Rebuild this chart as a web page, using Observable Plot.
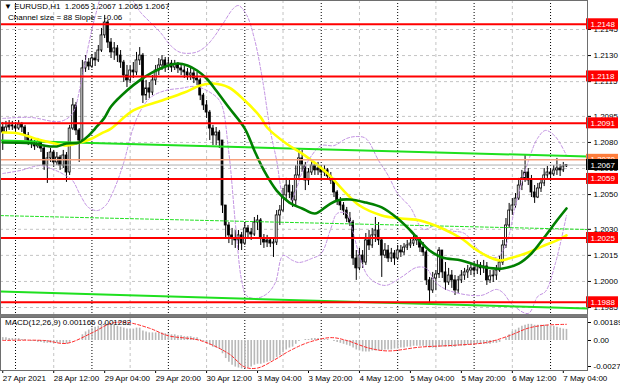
<!DOCTYPE html>
<html><head><meta charset="utf-8">
<script src="https://cdn.jsdelivr.net/npm/d3@7"></script>
<script src="https://cdn.jsdelivr.net/npm/@observablehq/plot@0.6"></script>
<style>
body{margin:0;background:#fff;}
#wrap{position:relative;width:620px;height:388px;overflow:hidden;background:#fff;font-family:"Liberation Sans",Arial,sans-serif;}
#main,#macd{position:absolute;left:0;}
#main{top:0}
#macd{top:315px}
.t{position:absolute;font-size:8px;line-height:10px;white-space:pre;color:#000}
#sep{position:absolute;left:0;top:314px;width:588px;height:3px;background:#7a7a7a}
</style></head><body>
<div id="wrap"><div id="main"></div><div id="macd"></div><div id="sep"></div>
<div class="t" style="left:4px;top:2px">▼ EURUSD,H1  1.2065 1.2067 1.2065 1.2067</div>
<div class="t" style="left:8px;top:13px">Channel size = 88 Slope = -0.06</div>
<div class="t" style="left:5px;top:318px">MACD(12,26,9) 0.001166 0.001282</div>
</div>
<script>
// ---- candles (H1 bars, index 0 = 27 Apr 20:00) ----
const firstOpen = 1.20886;
const close = [
1.20857,1.20886,1.20898,1.20892,1.2088,1.20903,1.20886,1.2084,1.20811,1.20794,
1.20777,1.208,1.20765,1.20667,1.20708,1.20742,1.20685,1.20713,1.20667,1.20725,
1.20627,1.2088,1.21013,1.20869,1.20811,1.21226,1.2126,1.21237,1.21283,1.21272,
1.21329,1.21416,1.2149,1.21375,1.21318,1.21341,1.213,1.2126,1.21185,1.21157,
1.21214,1.21203,1.21272,1.213,1.2107,1.21111,1.21087,1.21157,1.21214,1.21243,
1.21272,1.21237,1.21254,1.21231,1.21249,1.21226,1.21214,1.21203,1.21185,1.21197,
1.21168,1.21157,1.2107,1.21013,1.20972,1.2088,1.2084,1.20857,1.20811,1.20437,
1.20322,1.20265,1.20247,1.20236,1.20265,1.20218,1.20305,1.20282,1.2027,1.20339,
1.20351,1.20247,1.20224,1.20236,1.20218,1.20224,1.2038,1.20408,1.20495,1.20552,
1.20512,1.20466,1.2061,1.20708,1.20667,1.20581,1.20627,1.20667,1.20639,1.2065,
1.20627,1.20639,1.20604,1.20581,1.20512,1.20466,1.20437,1.20408,1.20362,1.20339,
1.20132,1.20075,1.20149,1.20109,1.20236,1.20207,1.20265,1.20293,1.20236,1.20149,
1.20178,1.20132,1.20161,1.20132,1.20178,1.20167,1.20195,1.20207,1.20218,1.20236,
1.20247,1.20195,1.20167,1.20006,1.19948,1.20017,1.2004,1.20178,1.20052,1.19994,
1.20034,1.20006,1.19948,1.20006,1.20034,1.20052,1.20063,1.20075,1.20063,1.20092,
1.20075,1.20086,1.20006,1.20029,1.20034,1.20063,1.20109,1.20207,1.20322,1.20408,
1.20437,1.20477,1.20552,1.20593,1.20627,1.20581,1.20512,1.20483,1.20535,1.20564,
1.2061,1.20627,1.20616,1.20639,1.2065,1.20639,1.20662,1.2067];
const high = [
1.20915,1.20921,1.20926,1.20921,1.20915,1.20926,1.20915,1.20898,1.20857,1.20828,
1.20811,1.20823,1.20811,1.20777,1.20742,1.20765,1.20754,1.20742,1.20725,1.20754,
1.20742,1.20898,1.21053,1.2103,1.2088,1.21272,1.213,1.21283,1.21306,1.21318,
1.21358,1.21456,1.21531,1.21502,1.21398,1.21375,1.21358,1.21329,1.21272,1.21243,
1.21243,1.2126,1.21318,1.21346,1.21312,1.21157,1.21145,1.21185,1.21243,1.21283,
1.213,1.21289,1.21283,1.21272,1.21272,1.2126,1.21249,1.21237,1.21226,1.21226,
1.21214,1.21203,1.21168,1.21082,1.21041,1.20984,1.20898,1.20886,1.20869,1.20811,
1.20437,1.20339,1.20305,1.20293,1.20293,1.20282,1.20339,1.20322,1.20305,1.20368,
1.2038,1.20362,1.2027,1.20265,1.20247,1.20247,1.20408,1.20437,1.20535,1.20593,
1.20581,1.20552,1.20667,1.20765,1.20754,1.20685,1.2065,1.20696,1.20685,1.20685,
1.20667,1.20667,1.2065,1.20627,1.20593,1.20523,1.20483,1.20454,1.20426,1.20397,
1.20351,1.20178,1.2019,1.20178,1.20276,1.20293,1.20305,1.20368,1.20339,1.20247,
1.20218,1.20207,1.2019,1.20178,1.20207,1.20207,1.20218,1.20236,1.20247,1.20265,
1.20265,1.20253,1.20224,1.20178,1.20023,1.20052,1.20063,1.20195,1.20178,1.20109,
1.20075,1.20063,1.20034,1.20029,1.20063,1.20075,1.20092,1.20103,1.20109,1.20121,
1.20109,1.20121,1.20109,1.20063,1.20063,1.20092,1.20149,1.20236,1.20362,1.20449,
1.20477,1.20506,1.20593,1.20639,1.20725,1.2065,1.2061,1.20552,1.20564,1.20593,
1.2065,1.20662,1.2065,1.20667,1.20708,1.20673,1.20685,1.20673];
const low = [
1.20754,1.20852,1.20869,1.20869,1.20857,1.20869,1.20857,1.20811,1.20782,1.20765,
1.20754,1.20765,1.20742,1.20639,1.20564,1.20685,1.20656,1.20667,1.20639,1.2065,
1.2057,1.2061,1.20869,1.2084,1.20685,1.208,1.21203,1.21214,1.21226,1.21237,
1.2126,1.21318,1.21398,1.21341,1.21283,1.21272,1.2126,1.21226,1.21145,1.21116,
1.21139,1.21168,1.21185,1.21243,1.21024,1.21041,1.21053,1.2107,1.21128,1.21185,
1.21214,1.21203,1.21214,1.21203,1.21214,1.21197,1.21185,1.21168,1.21157,1.21157,
1.21139,1.21128,1.21041,1.20984,1.20938,1.20811,1.20782,1.20782,1.20765,1.20391,
1.20253,1.20218,1.20207,1.2019,1.20178,1.20178,1.20207,1.20247,1.20236,1.20259,
1.20293,1.20207,1.2019,1.20195,1.20195,1.20138,1.20207,1.20322,1.20397,1.20466,
1.20477,1.20426,1.20437,1.20593,1.20627,1.20523,1.20552,1.2061,1.2061,1.2061,
1.20598,1.20604,1.20581,1.20558,1.20483,1.20437,1.20408,1.2038,1.20339,1.20316,
1.20092,1.20006,1.20063,1.20075,1.20092,1.20178,1.2019,1.20224,1.20207,1.20023,
1.20132,1.20109,1.20109,1.20092,1.20121,1.20138,1.20149,1.20178,1.2019,1.20201,
1.20207,1.20167,1.20144,1.19977,1.19879,1.19931,1.19948,1.20017,1.20017,1.19948,
1.19977,1.1996,1.19919,1.19931,1.19988,1.20006,1.20017,1.20034,1.20029,1.2004,
1.20034,1.20046,1.19977,1.19988,1.19994,1.20006,1.20052,1.20092,1.2019,1.20305,
1.2038,1.2042,1.20466,1.20523,1.2057,1.20552,1.20483,1.20449,1.20477,1.20512,
1.20546,1.20593,1.20593,1.20604,1.2061,1.20604,1.20627,1.20656];

// ---- moving averages [bar, price] ----
const maGreen = [[0,1.208],[10,1.20794],[13,1.20782],[17,1.20777],[20,1.20794],[24,1.208],[27,1.2084],[29,1.2088],[32,1.20944],[34,1.21007],[39,1.21099],[43,1.21157],[47,1.21203],[52,1.21243],[55,1.21254],[58,1.21243],[61,1.21214],[64,1.21168],[67,1.21099],[71,1.21001],[76,1.2088],[79,1.20754],[82,1.20639],[86,1.20523],[90,1.20454],[94,1.2042],[98,1.20391],[102,1.20437],[105,1.20466],[109,1.20472],[114,1.20454],[119,1.20426],[124,1.20362],[128,1.20293],[130,1.20253],[134,1.20178],[138,1.20138],[144,1.20121],[149,1.20092],[154,1.20075],[157,1.20075],[162,1.20103],[166,1.20161],[170,1.20253],[174,1.20351],[177,1.2042]];
const maYellow = [[0,1.20857],[5,1.20852],[10,1.20823],[15,1.208],[20,1.20782],[23,1.20794],[28,1.20823],[31,1.20852],[34,1.2088],[41,1.20984],[50,1.21041],[57,1.21087],[62,1.21128],[66,1.21139],[71,1.21116],[76,1.21041],[81,1.20944],[83,1.20886],[89,1.20794],[94,1.20736],[97,1.20696],[102,1.20621],[107,1.20523],[112,1.20437],[119,1.2038],[125,1.20362],[131,1.20351],[138,1.20305],[144,1.20247],[149,1.20178],[153,1.20138],[156,1.20121],[159,1.20132],[165,1.20167],[170,1.20207],[174,1.20236],[177,1.20265]];
const bandUpper = [[0,1.20938],[8.7,1.20944],[18.1,1.20921],[21.9,1.20967],[24.4,1.21128],[26.9,1.21358],[29.1,1.21531],[31.3,1.21646],[35.4,1.21686],[39.5,1.21646],[43.3,1.21548],[46.4,1.2149],[49.5,1.21433],[52.7,1.21358],[55.8,1.21318],[60.5,1.21318],[63.7,1.21352],[66.2,1.21404],[69,1.21479],[72.4,1.21571],[74,1.21588],[76.5,1.21536],[79,1.21398],[81.6,1.21157],[84,1.20869],[86,1.20696],[88,1.20495],[90,1.2045],[92,1.20523],[94,1.20627],[97,1.20725],[100,1.20782],[104,1.20782],[108,1.20823],[111,1.20834],[114,1.20823],[118,1.20696],[121,1.2061],[124,1.20506],[128,1.20426],[132,1.203],[136,1.20322],[140,1.20293],[145,1.20276],[150,1.20172],[155,1.20138],[157.9,1.20207],[161,1.20437],[165.1,1.20696],[167.9,1.20823],[170.4,1.20869],[173.5,1.20834],[177,1.20725]];
const bandLower = [[0,1.20621],[5.6,1.20639],[11.9,1.20667],[16.6,1.20639],[19.7,1.2061],[21.9,1.20581],[24.4,1.20495],[26.9,1.20426],[29.7,1.20408],[32.3,1.20437],[34.8,1.20523],[37.9,1.20679],[40.7,1.20869],[43.3,1.20984],[46.4,1.21059],[51.1,1.21099],[55.8,1.21111],[60.5,1.21122],[65.2,1.21087],[68.4,1.2103],[70.9,1.20754],[73.1,1.20322],[75,1.20006],[76.5,1.19919],[79.4,1.19902],[83.1,1.19931],[85.6,1.19994],[88,1.20149],[91,1.20121],[93,1.20109],[97,1.20132],[100,1.20161],[103,1.20304],[105,1.20391],[108,1.20391],[110,1.20282],[112,1.20149],[115,1.20023],[120,1.19977],[125,1.20023],[130,1.20081],[133,1.20075],[136,1.19994],[140,1.19948],[150,1.19919],[155,1.19954],[157,1.19936],[160,1.19867],[165,1.19816],[168,1.19914],[170.4,1.19942],[173.5,1.20103],[177,1.2038]];

// ---- regression channel (price at left / right edge) ----
const xDomain = [-0.71, 183.6];
const channelUpper = [[xDomain[0],1.20811],[xDomain[1],1.20719]];
const channelMiddle = [[xDomain[0],1.20379],[xDomain[1],1.20299]];
const channelLower = [[xDomain[0],1.19942],[xDomain[1],1.19844]];

// ---- levels ----
const redLevels = [1.2148,1.2118,1.2091,1.2059,1.2025,1.1988];
const salmonLevel = [1.2070];
const currentPrice = [1.2067];
const priceTicks = [1.2145,1.2130,1.2115,1.2095,1.2080,1.2065,1.2050,1.2030,1.2015,1.2000,1.1985];

// ---- time axis ----
const tickBars = [0,16,32,48,64,80,96,112,128,144,160,176];
const tickLabels = ["27 Apr 2021","28 Apr 12:00","29 Apr 04:00","29 Apr 20:00","30 Apr 12:00","3 May 04:00","3 May 20:00","4 May 12:00","5 May 04:00","5 May 20:00","6 May 12:00","7 May 04:00"];
const dayBars = [4,28,52,76,100,124,148,172];
const noonBars = [16,40,64,88,112,136,160];

// ---- MACD ----
const macdHist = [
0.0003,0.0003,0.0002,0.0002,
0.0002,0.0002,0.0001,0.0001,0.0000,-0.0001,-0.0001,
-0.0002,-0.0002,-0.0003,-0.0003,-0.0003,-0.0003,-0.0003,-0.0003,-0.0003,-0.0004,
-0.0002,0.0000,0.0000,0.0000,
0.0006,0.0009,0.0011,0.0013,0.0014,
0.0015,0.0016,0.0018,0.0017,0.0016,0.0016,0.0015,0.0014,0.0013,0.0012,0.0012,
0.0012,0.0013,0.0013,0.0010,0.0009,0.0008,0.0008,
0.0008,0.0008,0.0008,0.0007,0.0007,0.0006,0.0006,0.0005,0.0005,0.0004,0.0004,0.0004,0.0003,
0.0003,0.0001,-0.0001,-0.0003,-0.0005,-0.0007,-0.0008,-0.0009,
-0.0014,-0.0019,-0.0023,-0.0026,-0.0028,-0.0029,-0.0030,-0.0029,
-0.0029,-0.0028,-0.0026,-0.0025,-0.0025,-0.0024,-0.0023,-0.0022,-0.0021,
-0.0018,-0.0016,-0.0013,-0.0010,-0.0008,-0.0007,-0.0004,-0.0001,0.0000,0.0001,0.0001,
0.0002,0.0002,0.0002,0.0002,0.0001,0.0001,0.0000,-0.0001,-0.0002,-0.0003,-0.0004,
-0.0005,-0.0006,-0.0008,-0.0010,-0.0011,-0.0012,-0.0012,-0.0012,-0.0011,
-0.0011,-0.0011,-0.0011,-0.0010,-0.0010,-0.0010,-0.0009,-0.0009,-0.0008,-0.0008,-0.0007,-0.0007,-0.0006,-0.0006,
-0.0006,-0.0006,-0.0007,-0.0008,-0.0008,-0.0008,-0.0007,-0.0007,-0.0007,-0.0007,-0.0007,-0.0007,-0.0006,-0.0006,-0.0006,
-0.0005,-0.0005,-0.0005,-0.0004,-0.0004,-0.0004,-0.0004,-0.0004,-0.0003,-0.0003,-0.0002,
0.0000,0.0003,0.0006,0.0009,0.0011,0.0013,0.0015,0.0016,0.0017,
0.0017,0.0016,0.0016,0.0016,0.0016,0.0016,0.0015,0.0015,0.0014,0.0013,0.0012,0.00117];
const macdSignal = [[0,0],[13,0],[20,-0.0003],[28,0.0008],[34,0.0018],[39,0.0019],[46,0.0013],[52,0.0005],[62,0],[71,-0.0014],[76,-0.0028],[80,-0.0029],[85,-0.0021],[90,-0.0011],[96,-0.0002],[103,0.0003],[108,0],[115,-0.0008],[121,-0.0011],[131,-0.0007],[142,-0.0005],[152,-0.0002],[159,0.0005],[165,0.0013],[170,0.0016],[177,0.0017]];
const macdTicks = [0.001895, 0, -0.00274];
const macdTickLabels = ["0.001895","0.00","-0.00274"];

// ---- build ----
const bars = close.map((c,i)=>({i, o: i ? close[i-1] : firstOpen, c, h: high[i], l: low[i]}));
const upBars = bars.filter(d=>d.c>=d.o), downBars = bars.filter(d=>d.c<d.o);
const px = d=>d[0], py = d=>d[1];
const fontStyle = {fontFamily:"'Liberation Sans', Arial, sans-serif", fontSize:"8px", color:"#000", background:"transparent", overflow:"visible"};
const xEdge = () => xDomain[1];

const levelBox = (vals, fill, textFill) => [
  Plot.rect(vals, {x1: xEdge, x2: xEdge, y1: d=>d, y2: d=>d, insetLeft: -1, insetRight: -31, insetTop: -5.5, insetBottom: -5.5, fill}),
  Plot.text(vals, {x: xEdge, y: d=>d, text: d=>d.toFixed(4), dx: 3, textAnchor: "start", fill: textFill, fontSize: 8})
];

const main = Plot.plot({
  width: 620, height: 315,
  marginLeft: 0, marginRight: 33, marginTop: 0, marginBottom: 0,
  style: fontStyle,
  x: {domain: xDomain, axis: null},
  y: {domain: [1.19804, 1.216169], axis: null},
  marks: [
    Plot.ruleY(priceTicks, {stroke:"#c4c4c4", strokeDasharray:"3,3"}),
    Plot.ruleX(noonBars, {stroke:"#c4c4c4", strokeDasharray:"3,3"}),
    Plot.ruleX(dayBars, {stroke:"#000", strokeDasharray:"1,2"}),
    Plot.ruleX(bars, {x:"i", y1:"l", y2:"h", stroke:"#000", strokeWidth:1}),
    Plot.rect(upBars, {x1: d=>d.i-0.3, x2: d=>d.i+0.3, y1:"o", y2:"c", fill:"#fff", stroke:"#000", strokeWidth:0.8}),
    Plot.rect(downBars, {x1: d=>d.i-0.3, x2: d=>d.i+0.3, y1:"o", y2:"c", fill:"#000", stroke:"#000", strokeWidth:0.8}),
    Plot.line(bandUpper, {x:px, y:py, stroke:"#c292e2", strokeWidth:1, strokeDasharray:"3,2", curve:"catmull-rom", clip:true}),
    Plot.line(bandLower, {x:px, y:py, stroke:"#c292e2", strokeWidth:1, strokeDasharray:"3,2", curve:"catmull-rom", clip:true}),
    Plot.line(channelUpper, {x:px, y:py, stroke:"#1fe01f", strokeWidth:2}),
    Plot.line(channelLower, {x:px, y:py, stroke:"#1fe01f", strokeWidth:2}),
    Plot.line(channelMiddle, {x:px, y:py, stroke:"#1fe01f", strokeWidth:1, strokeDasharray:"3,2"}),
    Plot.line(maYellow, {x:px, y:py, stroke:"#ffff00", strokeWidth:2.6, curve:"catmull-rom"}),
    Plot.line(maGreen, {x:px, y:py, stroke:"#008000", strokeWidth:2.6, curve:"catmull-rom"}),
    Plot.ruleY(salmonLevel, {stroke:"#f7a07c", strokeWidth:1.5}),
    Plot.ruleY(currentPrice, {stroke:"#b0b0b0", strokeWidth:1}),
    Plot.ruleY(redLevels, {stroke:"#ff0000", strokeWidth:2}),
    Plot.axisY({anchor:"right", ticks: priceTicks, tickFormat: d=>d.toFixed(4), tickSize:3, tickPadding:3, label:null}),
    ...levelBox(redLevels, "#ff0000", "#fff"),
    ...levelBox(salmonLevel, "#ff7d3c", "#fff"),
    ...levelBox(currentPrice, "#000", "#fff"),
    Plot.frame({stroke:"#6e6e6e"})
  ]
});
document.getElementById("main").append(main);

const macd = Plot.plot({
  width: 620, height: 73,
  marginLeft: 0, marginRight: 33, marginTop: 2, marginBottom: 18,
  style: fontStyle,
  x: {domain: xDomain, axis: null},
  y: {domain: [-0.00316, 0.00242], axis: null},
  marks: [
    Plot.ruleX(noonBars, {stroke:"#c4c4c4", strokeDasharray:"3,3"}),
    Plot.ruleX(dayBars, {stroke:"#000", strokeDasharray:"1,2"}),
    Plot.ruleX(macdHist.map((v,i)=>[i,v]), {x:px, y1:()=>0, y2:py, stroke:"#b8b8b8", strokeWidth:1.6}),
    Plot.line(macdSignal, {x:px, y:py, stroke:"#ff2a2a", strokeWidth:1, strokeDasharray:"3,2", curve:"catmull-rom"}),
    Plot.axisY({anchor:"right", ticks: macdTicks, tickFormat: d=>macdTickLabels[macdTicks.indexOf(d)], tickSize:3, tickPadding:3, label:null}),
    Plot.axisX({anchor:"bottom", ticks: tickBars, tickFormat: d=>tickLabels[tickBars.indexOf(d)], tickSize:3, tickPadding:2, textAnchor:"start", label:null}),
    Plot.frame({stroke:"#6e6e6e"})
  ]
});
document.getElementById("macd").append(macd);
</script>
</body></html>
